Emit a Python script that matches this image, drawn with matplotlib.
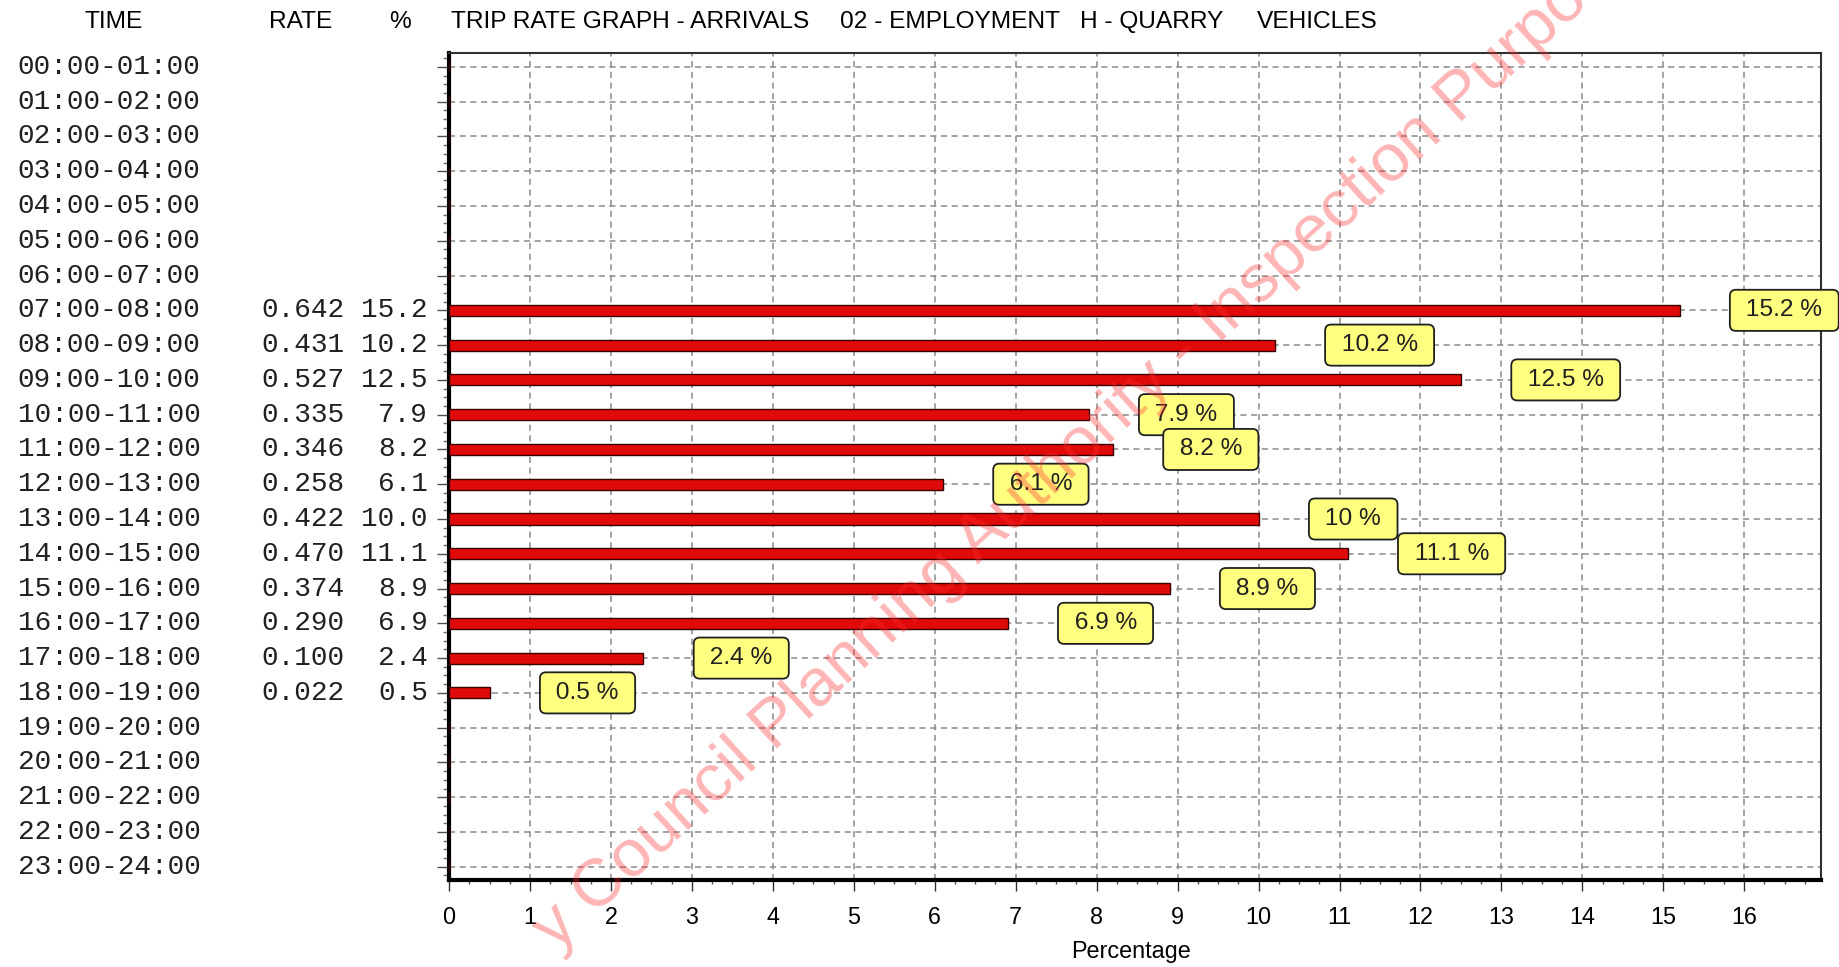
import matplotlib
matplotlib.use("Agg")
import matplotlib.pyplot as plt
import matplotlib.transforms as mtransforms
from matplotlib import font_manager
from matplotlib.ticker import MultipleLocator

# data
time_labels = ["00:00-01:00", "01:00-02:00", "02:00-03:00", "03:00-04:00",
               "04:00-05:00", "05:00-06:00", "06:00-07:00", "07:00-08:00",
               "08:00-09:00", "09:00-10:00", "10:00-11:00", "11:00-12:00",
               "12:00-13:00", "13:00-14:00", "14:00-15:00", "15:00-16:00",
               "16:00-17:00", "17:00-18:00", "18:00-19:00", "19:00-20:00",
               "20:00-21:00", "21:00-22:00", "22:00-23:00", "23:00-24:00"]
rates = [None, None, None, None, None, None, None,
         0.642, 0.431, 0.527, 0.335, 0.346, 0.258, 0.422, 0.470, 0.374, 0.290, 0.100, 0.022,
         None, None, None, None, None]
pcts = [None, None, None, None, None, None, None,
        15.2, 10.2, 12.5, 7.9, 8.2, 6.1, 10.0, 11.1, 8.9, 6.9, 2.4, 0.5,
        None, None, None, None, None]
x_ticks = list(range(17))

title_parts = ["TRIP RATE GRAPH - ARRIVALS", "02 - EMPLOYMENT", "H - QUARRY", "VEHICLES"]
watermark = "y Council Planning Authority - Inspection Purposes Only"

avail = {f.name for f in font_manager.fontManager.ttflist}
if "Liberation Sans Narrow" in avail:
    NARROW, ns = "Liberation Sans Narrow", 1.0
else:
    NARROW, ns = "Liberation Sans", 0.84
MONO = "Liberation Mono"

fig = plt.figure(figsize=(18.39, 9.67), dpi=100)
ax = fig.add_axes([0.2442, 0.0900, 0.7461, 0.8552])

rows = list(range(len(time_labels)))
vals = [p if p is not None else 0 for p in pcts]
ax.barh(rows, vals, height=0.32, color="#e00a0a", edgecolor="#3a0000", lw=1.0, zorder=3)

ax.set_xlim(0, 16.95)
ax.set_ylim(23.38, -0.40)

ax.set_xticks(x_ticks)
ax.set_xticklabels([str(t) for t in x_ticks], fontfamily=NARROW, fontsize=20 * ns)
ax.xaxis.set_minor_locator(MultipleLocator(0.25))
ax.set_yticks(rows)
ax.set_yticklabels([])
ax.yaxis.set_minor_locator(MultipleLocator(0.25))
ax.tick_params(axis="x", which="major", length=8, width=1, color="#303030", pad=11)
ax.tick_params(axis="x", which="minor", length=3, width=1, color="#505050")
ax.tick_params(axis="y", which="major", length=8.5, width=1, color="#505050")
ax.tick_params(axis="y", which="minor", length=4.5, width=1, color="#707070")

ax.grid(True, which="major", color="#8a8a8a", lw=1.1, linestyle=(0, (4, 3)), zorder=1)
ax.set_axisbelow(True)

for s in ["left", "bottom"]:
    ax.spines[s].set_linewidth(3.0)
    ax.spines[s].set_color("black")
for s in ["top", "right"]:
    ax.spines[s].set_linewidth(1.5)
    ax.spines[s].set_color("#303030")

# value labels in yellow boxes
for i, p in enumerate(pcts):
    if p is None:
        continue
    ax.text(p + 0.62 + 0.12, i, " %g %% " % p, ha="left", va="center",
            fontfamily=NARROW, fontsize=21 * ns, color="#202020", zorder=6, clip_on=False,
            bbox=dict(boxstyle="round,pad=0.39,rounding_size=0.25", fc="#ffff80",
                      ec="#202020", lw=1.3))

# left table
tr = mtransforms.blended_transform_factory(fig.transFigure, ax.transData)
for i, t in enumerate(time_labels):
    ax.text(0.0096, i, t, transform=tr, ha="left", va="center", fontfamily=MONO,
            fontsize=20, color="#202020", clip_on=False)
    if rates[i] is not None:
        ax.text(0.1871, i, "%.3f" % rates[i], transform=tr, ha="right", va="center",
                fontfamily=MONO, fontsize=20, color="#202020", clip_on=False)
        ax.text(0.2327, i, "%.1f" % pcts[i], transform=tr, ha="right", va="center",
                fontfamily=MONO, fontsize=20, color="#202020", clip_on=False)

# header
hy = 0.977
hfs = 21 * ns
fig.text(0.062, hy, "TIME", ha="center", va="center", fontfamily=NARROW, fontsize=hfs)
fig.text(0.1637, hy, "RATE", ha="center", va="center", fontfamily=NARROW, fontsize=hfs)
fig.text(0.2175, hy, "%", ha="center", va="center", fontfamily=NARROW, fontsize=hfs)
for xpos, part in zip([0.2455, 0.4567, 0.5874, 0.6837], title_parts):
    fig.text(xpos, hy, part, ha="left", va="center", fontfamily=NARROW, fontsize=hfs)

fig.text(0.615, 0.0165, "Percentage", ha="center", va="center", fontfamily=NARROW,
         fontsize=20 * ns)

fig.text(0.302, 0.0155, watermark, rotation=42.5, rotation_mode="anchor", ha="left",
         va="baseline", fontfamily="Liberation Sans", fontsize=48.5, color="#ff2a2a",
         alpha=0.35, zorder=10)

fig.savefig("out.png", dpi=100, facecolor="white")
